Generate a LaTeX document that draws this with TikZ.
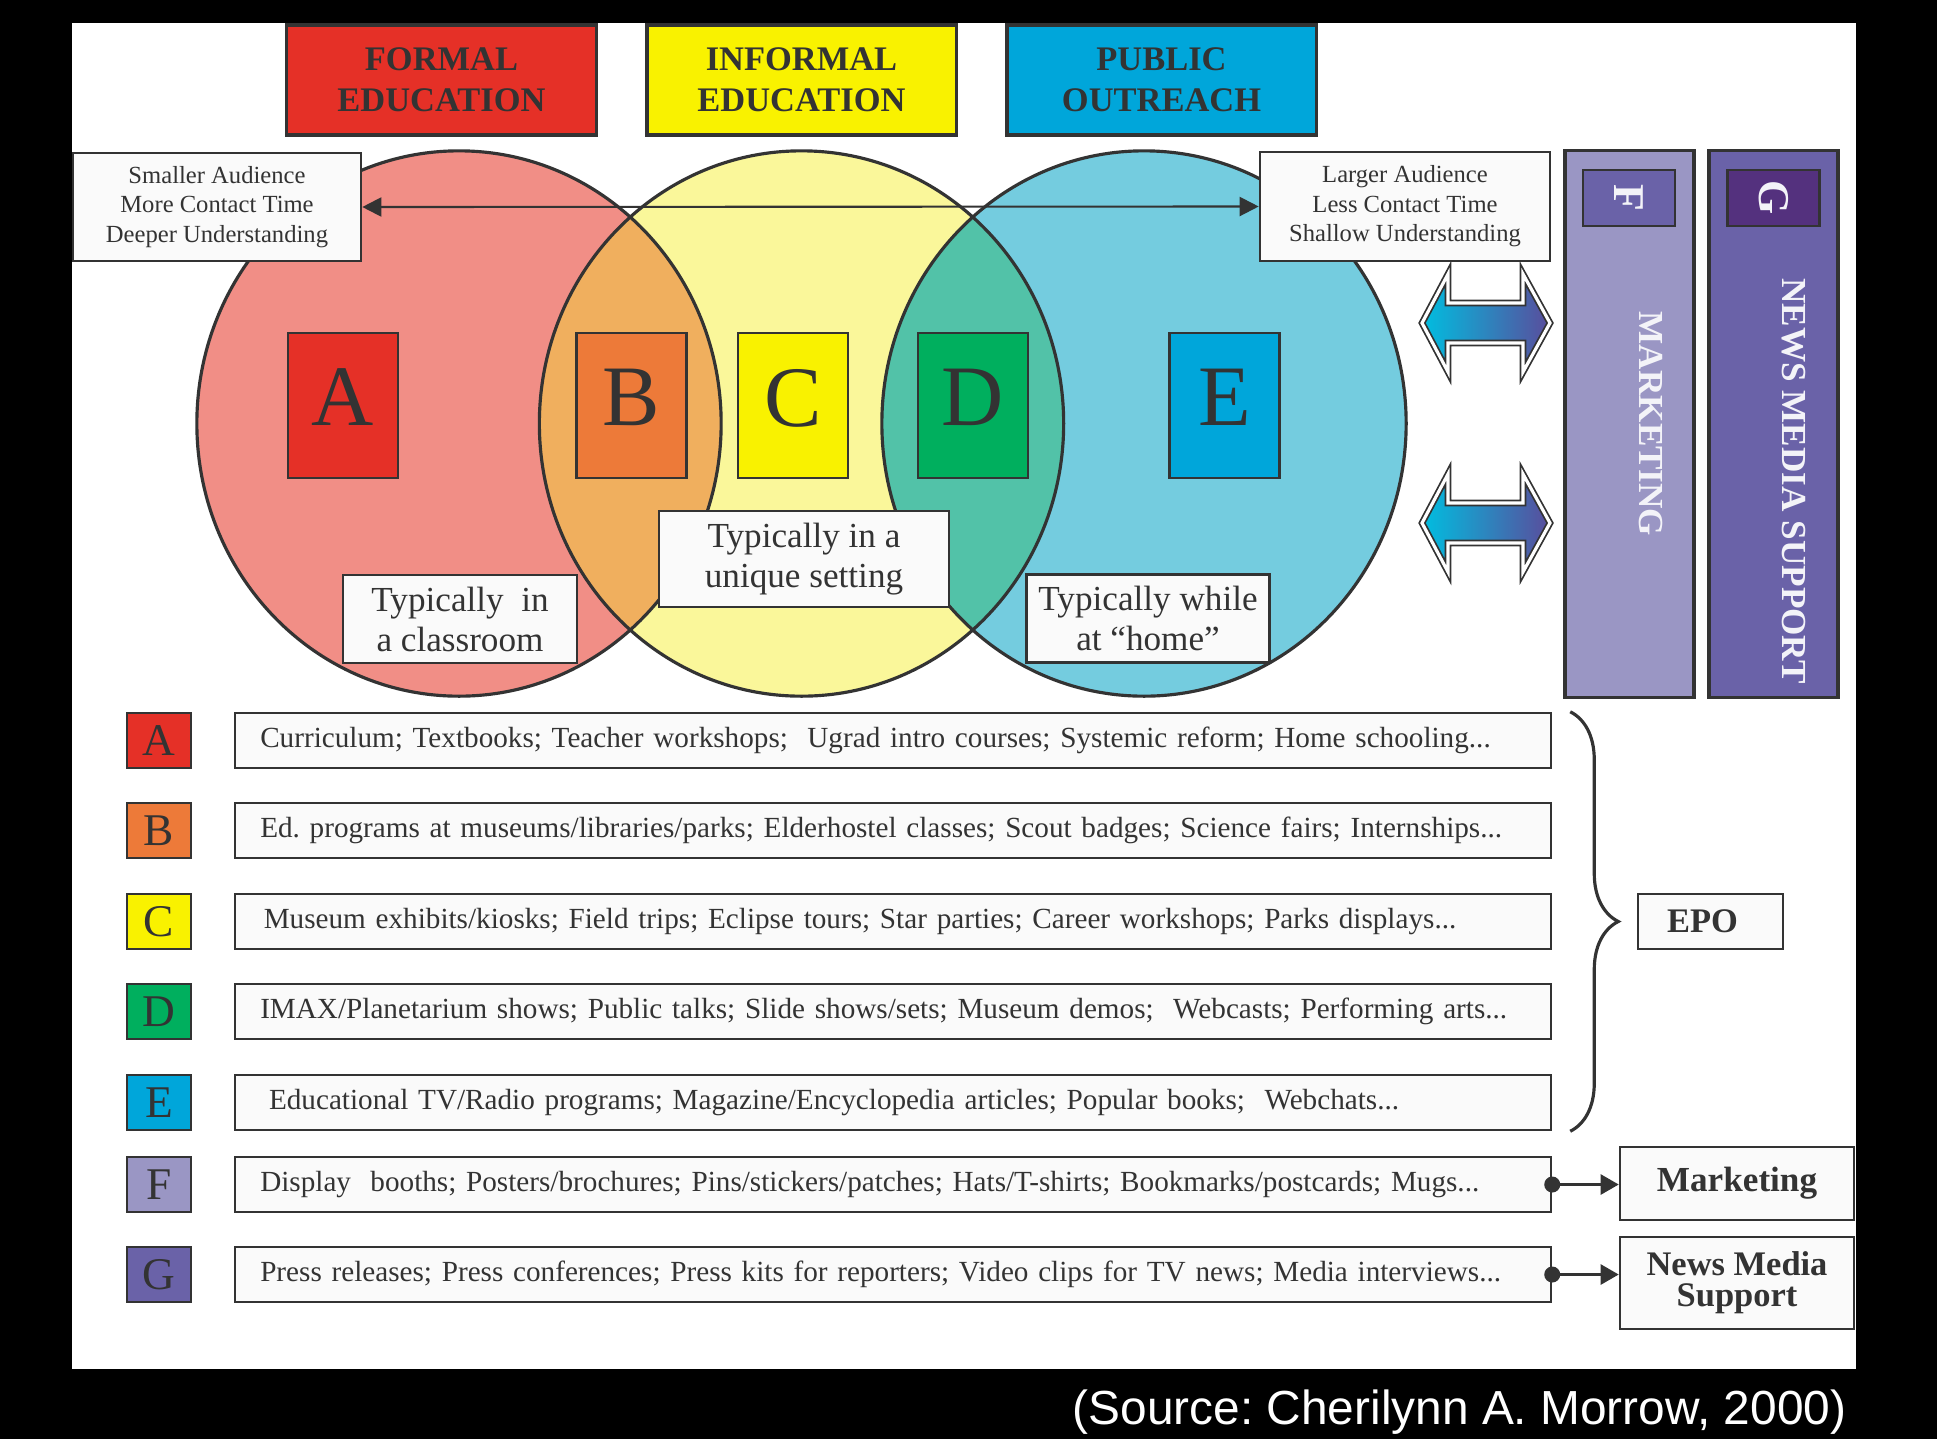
\documentclass[tikz,border=0pt]{standalone}
\usepackage{fontspec}
\setmainfont{Liberation Serif}
\newfontfamily\srcfont{Liberation Sans}
\frenchspacing
\usepackage{xcolor}
\definecolor{ink}{RGB}{51,51,51}
\definecolor{paper}{RGB}{250,250,250}
\definecolor{formred}{RGB}{229,48,39}
\definecolor{infyellow}{RGB}{249,242,0}
\definecolor{pubblue}{RGB}{0,166,218}
\definecolor{tagorange}{RGB}{237,122,57}
\definecolor{taggreen}{RGB}{0,175,94}
\definecolor{ringred}{RGB}{241,142,134}
\definecolor{ringyellow}{RGB}{250,247,154}
\definecolor{ringblue}{RGB}{116,204,223}
\definecolor{ovorange}{RGB}{240,175,94}
\definecolor{ovteal}{RGB}{82,194,168}
\definecolor{mklav}{RGB}{154,150,196}
\definecolor{nmpurple}{RGB}{106,98,168}
\definecolor{gdeep}{RGB}{84,49,126}
\definecolor{arrcyan}{RGB}{0,190,224}
\definecolor{arrpurple}{RGB}{90,76,156}
\usepackage{tikz}
\usetikzlibrary{positioning,arrows.meta,decorations.pathreplacing}
\tikzset{
  hdr/.style    ={rectangle,draw=ink,line width=0.9pt,minimum width=30.9mm,minimum height=11mm,
                  align=center,text=ink,font=\fontsize{9.8}{11.7}\selectfont\bfseries},
  tag/.style    ={rectangle,draw=ink,line width=0.7pt,minimum width=11mm,minimum height=14.5mm,
                  text depth=1.6mm,text=ink,font=\fontsize{24.5}{26}\selectfont},
  note/.style   ={rectangle,draw=ink,line width=0.7pt,fill=paper,align=center,text=ink},
  key/.style    ={rectangle,draw=ink,line width=0.7pt,minimum width=6.4mm,minimum height=5.5mm,
                  text=ink,font=\fontsize{12.9}{14}\selectfont},
  item/.style   ={rectangle,draw=ink,line width=0.7pt,fill=paper,anchor=west,text width=126.5mm,
                  inner xsep=2.5mm,minimum height=5.5mm,align=left,text=ink,
                  font=\fontsize{8.3}{10}\selectfont},
  column/.style ={rectangle,draw=ink,line width=0.9pt,minimum width=12.9mm,minimum height=54.6mm},
  square/.style ={rectangle,draw=ink,line width=0.7pt,minimum width=9.2mm,minimum height=5.6mm},
  vert/.style   ={rotate=-90,text=white!88!mklav,font=\fontsize{10}{12}\selectfont\bfseries},
  ring/.style   ={draw=ink,line width=0.9pt},
  link/.style   ={-{Triangle[length=1.8mm,width=2mm]},draw=ink,line width=0.7pt},
  epobrace/.style={decorate,decoration={brace,amplitude=4.8mm},draw=ink,line width=0.9pt},
}

\begin{document}
\begin{tikzpicture}[x=0.01cm,y=-0.01cm]
  \useasboundingbox (0,0) rectangle (1937,1439);
  \fill[black] (0,0) rectangle (1937,1439);
  \fill[white] (72,23) rectangle (1856,1369);
  % headers
  \node[hdr,fill=formred] (formal) at (441.5,80) {FORMAL\\EDUCATION};
  \node[hdr,fill=infyellow] (informal) at (801.5,80) {INFORMAL\\EDUCATION};
  \node[hdr,fill=pubblue] (public) at (1161.5,80) {PUBLIC\\OUTREACH};
  % three overlapping rings
  \fill[ringred] (459,423.5) ellipse [x radius=26.2mm,y radius=27.25mm];
  \fill[ringyellow] (801.5,423.5) ellipse [x radius=26.2mm,y radius=27.25mm];
  \fill[ringblue] (1144,423.5) ellipse [x radius=26.2mm,y radius=27.25mm];
  \begin{scope}
    \clip (459,423.5) ellipse [x radius=26.2mm,y radius=27.25mm];
    \fill[ovorange] (801.5,423.5) ellipse [x radius=26.2mm,y radius=27.25mm];
  \end{scope}
  \begin{scope}
    \clip (1144,423.5) ellipse [x radius=26.2mm,y radius=27.25mm];
    \fill[ovteal] (801.5,423.5) ellipse [x radius=26.2mm,y radius=27.25mm];
  \end{scope}
  \draw[ring] (459,423.5) ellipse [x radius=26.2mm,y radius=27.25mm];
  \draw[ring] (801.5,423.5) ellipse [x radius=26.2mm,y radius=27.25mm];
  \draw[ring] (1144,423.5) ellipse [x radius=26.2mm,y radius=27.25mm];
  % letter tags in the rings
  \node[tag,fill=formred] (ta) at (343,405.5) {A};
  \node[tag,fill=tagorange] (tb) at (631.5,405.5) {B};
  \node[tag,fill=infyellow] (tc) at (793,405.5) {C};
  \node[tag,fill=taggreen] (td) at (973,405.5) {D};
  \node[tag,fill=pubblue] (te) at (1224.5,405.5) {E};
  % audience scale
  \node[note,minimum width=28.8mm,minimum height=10.8mm,font=\fontsize{7}{8.4}\selectfont]
    (small) at (217,207) {Smaller Audience\\More Contact Time\\Deeper Understanding};
  \node[note,minimum width=29mm,minimum height=10.9mm,font=\fontsize{7}{8.4}\selectfont]
    (large) at (1405,206.5) {Larger Audience\\Less Contact Time\\Shallow Understanding};
  \draw[{Triangle[length=1.9mm,width=1.9mm]}-{Triangle[length=1.9mm,width=1.9mm]},draw=ink,line width=0.6pt]
    (small.east) -- (large.west);
  % settings
  \node[note,minimum width=23.4mm,minimum height=8.2mm,font=\fontsize{10}{11.4}\selectfont]
    (cls) at (460,619) {Typically~~in\\a classroom};
  \node[note,minimum width=29mm,minimum height=9mm,font=\fontsize{10}{11.4}\selectfont]
    (uniq) at (804,559) {Typically in a\\unique setting};
  \node[note,minimum width=24.2mm,minimum height=8.1mm,font=\fontsize{10}{11.4}\selectfont]
    (home) at (1148,618.5) {Typically while\\at ``home''};
  % block arrows towards the side columns
  \foreach \c in {323,523}{
    \shadedraw[left color=arrcyan,right color=arrpurple,draw=ink,line width=0.5pt,
               double=white,double distance=0.9pt]
      (1422,\c) -- (1448,\c-49) -- (1448,\c-20) -- (1523,\c-20) -- (1523,\c-49) -- (1550,\c)
      -- (1523,\c+49) -- (1523,\c+20) -- (1448,\c+20) -- (1448,\c+49) -- cycle;
  }
  % side columns
  \node[column,fill=mklav] (mkcol) at (1629.5,424) {};
  \node[column,fill=nmpurple] (nmcol) at (1773.5,424) {};
  \node[square,fill=nmpurple] (fsq) at (1629,198) {};
  \node[square,fill=gdeep] (gsq) at (1773.5,198) {};
  \node[vert,font=\fontsize{12.5}{14}\selectfont\bfseries] at (fsq) {F};
  \node[vert,font=\fontsize{12.5}{14}\selectfont\bfseries] at (gsq) {G};
  \node[vert] (mktxt) at (1651,424) {MARKETING};
  \node[vert] (nmtxt) at (1794,481) {NEWS MEDIA SUPPORT};
  % key rows
  \node[key,fill=formred] (ka) at (159,740.5) {A};
  \node[key,fill=tagorange] (kb) at (159,830.5) {B};
  \node[key,fill=infyellow] (kc) at (159,921.5) {C};
  \node[key,fill=taggreen] (kd) at (159,1011.5) {D};
  \node[key,fill=pubblue] (ke) at (159,1102.5) {E};
  \node[key,fill=mklav] (kf) at (159,1184.5) {F};
  \node[key,fill=nmpurple] (kg) at (159,1274.5) {G};
  \node[item] (ra) at (234,740.5)
    {\mbox{Curriculum; Textbooks; Teacher workshops;~ Ugrad intro courses; Systemic reform; Home schooling...}};
  \node[item] (rb) at (234,830.5)
    {\mbox{Ed. programs at museums/libraries/parks; Elderhostel classes; Scout badges; Science fairs; Internships...}};
  \node[item] (rc) at (234,921.5)
    {\mbox{\hspace{1pt}Museum exhibits/kiosks; Field trips; Eclipse tours; Star parties; Career workshops; Parks displays...}};
  \node[item] (rd) at (234,1011.5)
    {\mbox{IMAX/Planetarium shows; Public talks; Slide shows/sets; Museum demos;~ Webcasts; Performing arts...}};
  \node[item] (re) at (234,1102.5)
    {\mbox{\hspace{2.5pt}Educational TV/Radio programs; Magazine/Encyclopedia articles; Popular books;~ Webchats...}};
  \node[item] (rf) at (234,1184.5)
    {\mbox{Display~ booths; Posters/brochures; Pins/stickers/patches; Hats/T-shirts; Bookmarks/postcards; Mugs...}};
  \node[item] (rg) at (234,1274.5)
    {\mbox{Press releases; Press conferences; Press kits for reporters; Video clips for TV news; Media interviews...}};
  % grouping and destinations
  \draw[epobrace] ([xshift=1.8mm]ra.north east) -- ([xshift=1.8mm]re.south east);
  \node[note,minimum width=14.5mm,minimum height=5.5mm,font=\fontsize{9.8}{11}\selectfont\bfseries]
    (epo) at (1710.5,921.5) {EPO\hspace{1.6mm}};
  \node[note,minimum width=23.4mm,minimum height=7.3mm,font=\fontsize{10}{12}\selectfont\bfseries]
    (mkt) at (1737,1183.5) {Marketing};
  \node[note,minimum width=23.4mm,minimum height=9.2mm,font=\fontsize{9.8}{8.9}\selectfont\bfseries]
    (nms) at (1737,1283) {News Media\\Support};
  \fill[ink] (rf.east) circle (0.8mm);
  \fill[ink] (rg.east) circle (0.8mm);
  \draw[link] (rf.east) -- (rf.east -| mkt.west);
  \draw[link] (rg.east) -- (rg.east -| nms.west);
  % credit line
  \node[text=white,font=\srcfont\fontsize{13.6}{16}\selectfont] (src) at (1459.5,1412)
    {(Source: Cherilynn A. Morrow, 2000)};
\end{tikzpicture}
\end{document}
